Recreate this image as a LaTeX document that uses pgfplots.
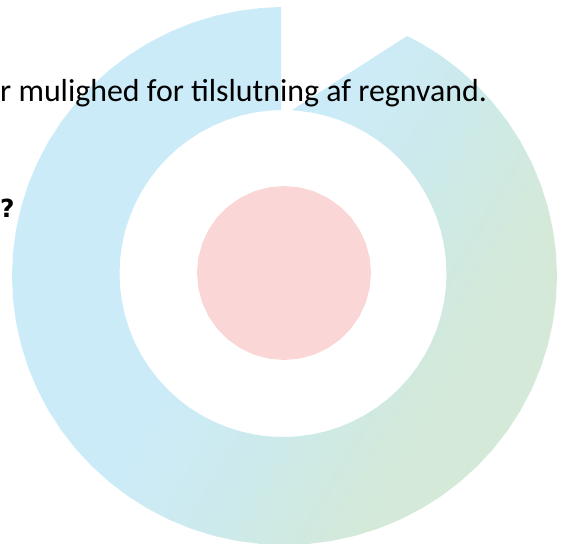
\documentclass[border=0pt]{standalone}
\usepackage{pgfplots}
\pgfplotsset{compat=1.18}
\usepackage{fontspec}
\setmainfont{Carlito}
\newfontfamily\qfont{DejaVu Sans}
\definecolor{ringblue}{HTML}{CCEBF8}
\definecolor{ringmid}{HTML}{CCEAEA}
\definecolor{ringgreen}{HTML}{D4E9D7}
\definecolor{corepink}{HTML}{FAD6D6}
\pgfdeclarehorizontalshading{ringshade}{100bp}{color(0bp)=(ringblue); color(46bp)=(ringblue); color(57bp)=(ringmid); color(69bp)=(ringgreen); color(100bp)=(ringgreen)}
\begin{document}
\begin{tikzpicture}
\begin{axis}[x=1bp, y=1bp, xmin=0, xmax=566, ymin=0, ymax=544,
  y dir=reverse, hide axis, scale only axis, clip=true]
% invisible frame to fix the picture size
\addplot[draw=none] coordinates {(0,0) (566,544)};
% ring (outer arc counter-clockwise, inner arc back)
\addplot[draw=none, shading=ringshade, shading angle=-30]
coordinates {
(281,7) (260.75,8.02) (237.18,11.09) (213.97,16.16) (191.30,23.22) (169.34,32.20)
(148.25,43.04) (128.20,55.65) (109.34,69.94) (91.81,85.79) (75.75,103.09)
(61.28,121.71) (48.51,141.5) (37.53,162.32) (28.43,184) (21.28,206.38)
(16.14,229.29) (13.04,252.55) (12,276) (13.04,299.45) (16.14,322.71)
(21.28,345.62) (28.43,368) (37.53,389.68) (48.51,410.5) (61.28,430.29)
(75.75,448.91) (91.81,466.21) (109.34,482.06) (128.20,496.35) (148.25,508.96)
(169.34,519.80) (191.30,528.78) (213.97,535.84) (237.18,540.91) (260.75,543.98)
(284.5,545) (308.25,543.98) (331.82,540.91) (355.03,535.84) (377.70,528.78)
(399.66,519.80) (420.75,508.96) (440.80,496.35) (459.66,482.06) (477.19,466.21)
(493.25,448.91) (507.72,430.29) (520.49,410.5) (531.47,389.68) (540.57,368)
(547.72,345.62) (552.86,322.71) (555.96,299.45) (557,276) (555.96,252.55)
(552.86,229.29) (547.72,206.38) (540.57,184) (531.47,162.32) (520.49,141.5)
(507.72,121.71) (493.25,103.09) (477.19,85.79) (459.66,69.94) (440.80,55.65)
(420.75,43.04) (407,36)
(292,110) (311.39,112.48) (325.32,115.57) (338.92,119.86) (352.10,125.32)
(364.75,131.90) (376.78,139.57) (388.10,148.25) (398.61,157.89) (408.25,168.40)
(416.93,179.72) (424.60,191.75) (431.18,204.40) (436.64,217.58) (440.93,231.18)
(444.02,245.11) (445.88,259.25) (446.5,273.5) (445.88,287.75) (444.02,301.89)
(440.93,315.82) (436.64,329.42) (431.18,342.60) (424.60,355.25) (416.93,367.28)
(408.25,378.60) (398.61,389.11) (388.10,398.75) (376.78,407.43) (364.75,415.10)
(352.10,421.68) (338.92,427.14) (325.32,431.43) (311.39,434.52) (297.25,436.38)
(283,437) (268.75,436.38) (254.61,434.52) (240.68,431.43) (227.08,427.14)
(213.90,421.68) (201.25,415.10) (189.22,407.43) (177.90,398.75) (167.39,389.11)
(157.75,378.60) (149.07,367.28) (141.40,355.25) (134.82,342.60) (129.36,329.42)
(125.07,315.82) (121.98,301.89) (120.12,287.75) (119.5,273.5) (120.12,259.25)
(121.98,245.11) (125.07,231.18) (129.36,217.58) (134.82,204.40) (141.40,191.75)
(149.07,179.72) (157.75,168.40) (167.39,157.89) (177.90,148.25) (189.22,139.57)
(201.25,131.90) (213.90,125.32) (227.08,119.86) (240.68,115.57) (254.61,112.48)
(268.75,110.62) (281,110)
} -- cycle;
% centre disc
\addplot[draw=none, fill=corepink]
coordinates {
(371,273) (369.68,257.89) (365.75,243.24) (359.34,229.5) (350.65,217.08)
(339.92,206.35) (327.5,197.66) (313.76,191.25) (299.11,187.32) (284,186)
(268.89,187.32) (254.24,191.25) (240.5,197.66) (228.08,206.35) (217.35,217.08)
(208.66,229.5) (202.25,243.24) (198.32,257.89) (197,273) (198.32,288.11)
(202.25,302.76) (208.66,316.5) (217.35,328.92) (228.08,339.65) (240.5,348.34)
(254.24,354.75) (268.89,358.68) (284,360) (299.11,358.68) (313.76,354.75)
(327.5,348.34) (339.92,339.65) (350.65,328.92) (359.34,316.5) (365.75,302.76)
(369.68,288.11)
} -- cycle;
\node[anchor=base west, inner sep=0pt, font=\fontsize{32}{36}\selectfont] at (axis cs:0,102) {r mulighed for tilslutning af regnvand.};
\node[anchor=base west, inner sep=0pt, font=\qfont\bfseries\fontsize{25}{30}\selectfont] at (axis cs:0,218) {?};
\end{axis}
\end{tikzpicture}
\end{document}
